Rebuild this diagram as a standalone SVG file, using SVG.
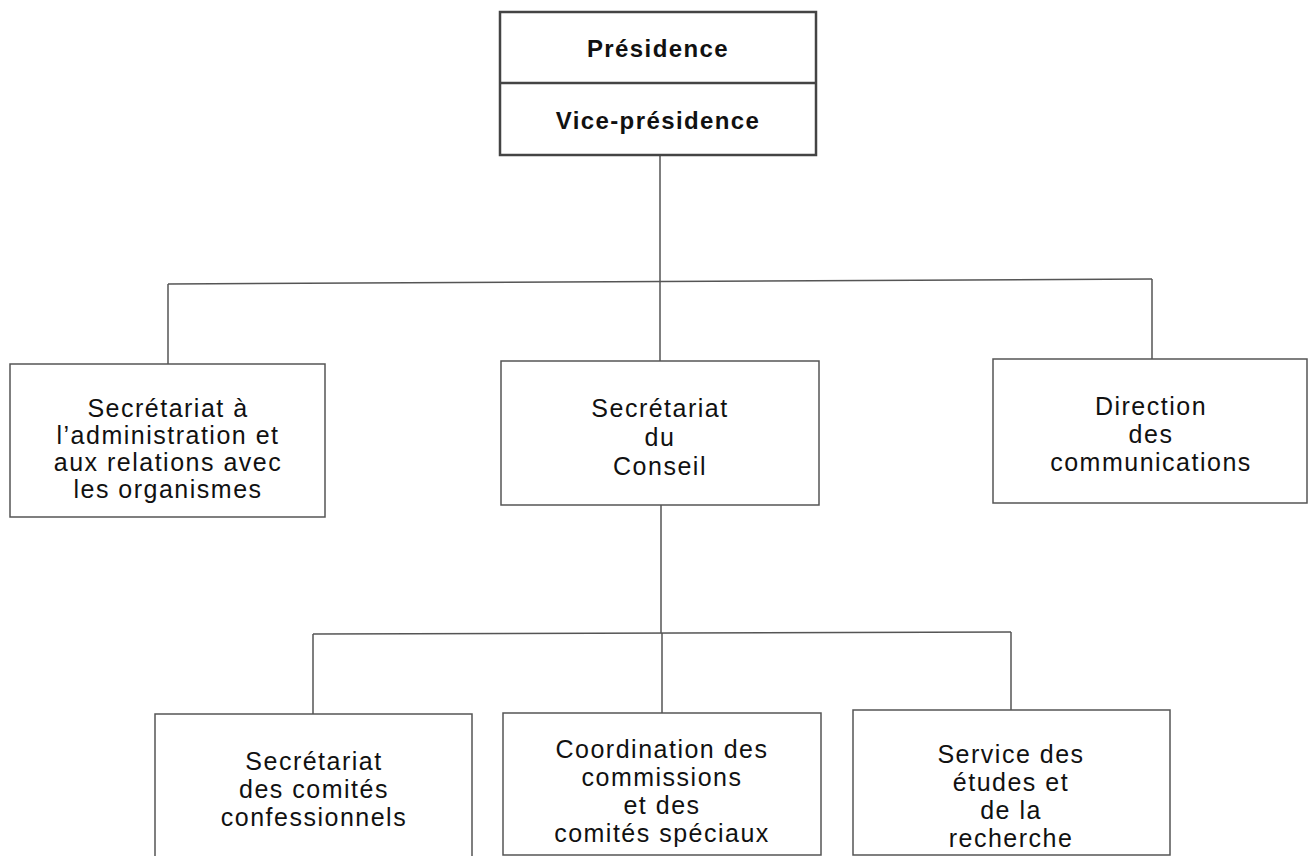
<svg xmlns="http://www.w3.org/2000/svg" width="1310" height="856" viewBox="0 0 1310 856">
<style>
.box{fill:#fff;stroke:#555;stroke-width:1.5}
.top{fill:#fff;stroke:#444;stroke-width:2.5}
.con{fill:none;stroke:#555;stroke-width:1.5}
text{font-family:"Liberation Sans",Arial,sans-serif;font-size:25px;fill:#111;text-anchor:middle;letter-spacing:1.5px}
.b{font-weight:bold;font-size:24px;letter-spacing:1.4px}
</style>
<rect width="1310" height="856" fill="#fff"/>
<g id="connectors">
<line class="con" x1="660" y1="155" x2="660" y2="282"/>
<line class="con" x1="168" y1="284" x2="1152" y2="279"/>
<line class="con" x1="168" y1="284" x2="168" y2="364"/>
<line class="con" x1="660" y1="282" x2="660" y2="361"/>
<line class="con" x1="1152" y1="279" x2="1152" y2="359"/>
<line class="con" x1="661" y1="505" x2="661" y2="633"/>
<line class="con" x1="313" y1="634" x2="1011" y2="632"/>
<line class="con" x1="313" y1="634" x2="313" y2="714"/>
<line class="con" x1="662" y1="633" x2="662" y2="713"/>
<line class="con" x1="1011" y1="632" x2="1011" y2="710"/>
</g>
<g id="presidence">
<rect class="top" x="500" y="12" width="316" height="143"/>
<line class="top" x1="500" y1="83" x2="816" y2="83"/>
<text class="b" x="658" y="57">Présidence</text>
<text class="b" x="658" y="129">Vice-présidence</text>
</g>
<g id="secretariat-admin">
<rect class="box" x="10" y="364" width="315" height="153"/>
<text x="168" y="417">Secrétariat à</text>
<text x="168" y="444">l’administration et</text>
<text x="168" y="471">aux relations avec</text>
<text x="168" y="498">les organismes</text>
</g>
<g id="secretariat-conseil">
<rect class="box" x="501" y="361" width="318" height="144"/>
<text x="660" y="417">Secrétariat</text>
<text x="660" y="446">du</text>
<text x="660" y="475">Conseil</text>
</g>
<g id="direction-communications">
<rect class="box" x="993" y="359" width="314" height="144"/>
<text x="1151" y="415">Direction</text>
<text x="1151" y="443">des</text>
<text x="1151" y="471">communications</text>
</g>
<g id="secretariat-comites">
<rect class="box" x="155" y="714" width="317" height="150"/>
<text x="314" y="770">Secrétariat</text>
<text x="314" y="798">des comités</text>
<text x="314" y="826">confessionnels</text>
</g>
<g id="coordination">
<rect class="box" x="503" y="713" width="318" height="142"/>
<text x="662" y="758">Coordination des</text>
<text x="662" y="786">commissions</text>
<text x="662" y="814">et des</text>
<text x="662" y="842">comités spéciaux</text>
</g>
<g id="service-etudes">
<rect class="box" x="853" y="710" width="317" height="145"/>
<text x="1011" y="763">Service des</text>
<text x="1011" y="791">études et</text>
<text x="1011" y="819">de la</text>
<text x="1011" y="847">recherche</text>
</g>
</svg>
